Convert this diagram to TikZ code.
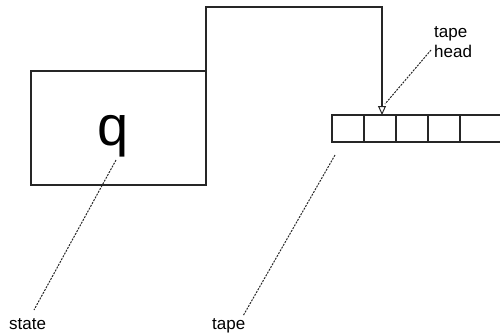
\documentclass[tikz,border=0pt]{standalone}
\usepackage{fontspec}
\setmainfont{Liberation Sans}
\usetikzlibrary{arrows.meta}
\begin{document}
\begin{tikzpicture}[x=1pt,y=-1pt,
  boxline/.style={draw=black!85, line width=1.5pt},
  cell/.style={boxline, inner sep=0pt, outer sep=0pt, minimum height=27pt, anchor=north west},
  leader/.style={draw=black!85, line width=1pt, dash pattern=on 2pt off 1.2pt},
  lbl/.style={font=\fontsize{17}{20}\selectfont, inner sep=0pt, align=left}]
\useasboundingbox (0,0) rectangle (500,333);
\clip (0,0) rectangle (500,333);
% state box
\node[boxline, minimum width=175pt, minimum height=114pt, inner sep=0pt, outer sep=0pt, anchor=north west] (state) at (31,71) {};
\node[font=\fontsize{56}{60}\selectfont, inner sep=0pt, anchor=base] (q) at (113,145) {q};
% tape cells
\foreach \i/\x in {1/332,2/364,3/396,4/428}{
  \node[cell, minimum width=32pt] (c\i) at (\x,115) {};
}
\node[cell, minimum width=60pt] (c5) at (460,115) {};
% connector from state to tape head
\coordinate (up) at (206,7);
\coordinate (over) at (382,7);
\draw[boxline, -{Triangle[open, length=9pt, width=8pt, line width=1pt]}] (state.north east) -- (up) -- (over) -- (over |- c2.north);
% labels
\node[lbl, anchor=base west] (th) at (434,57) {tape\\head};
\node[lbl, anchor=base west] (st) at (9,329) {state};
\node[lbl, anchor=base west] (tp) at (212,329) {tape};
% leader lines
\coordinate (thA) at (431,50);
\coordinate (thB) at (385,104);
\draw[leader] (thA) -- (thB);
\coordinate (qA) at (116,160);
\coordinate (stA) at (34,310);
\draw[leader] (qA) -- (stA);
\coordinate (tpA) at (335,155);
\coordinate (tpB) at (243,316);
\draw[leader] (tpA) -- (tpB);
\end{tikzpicture}
\end{document}
